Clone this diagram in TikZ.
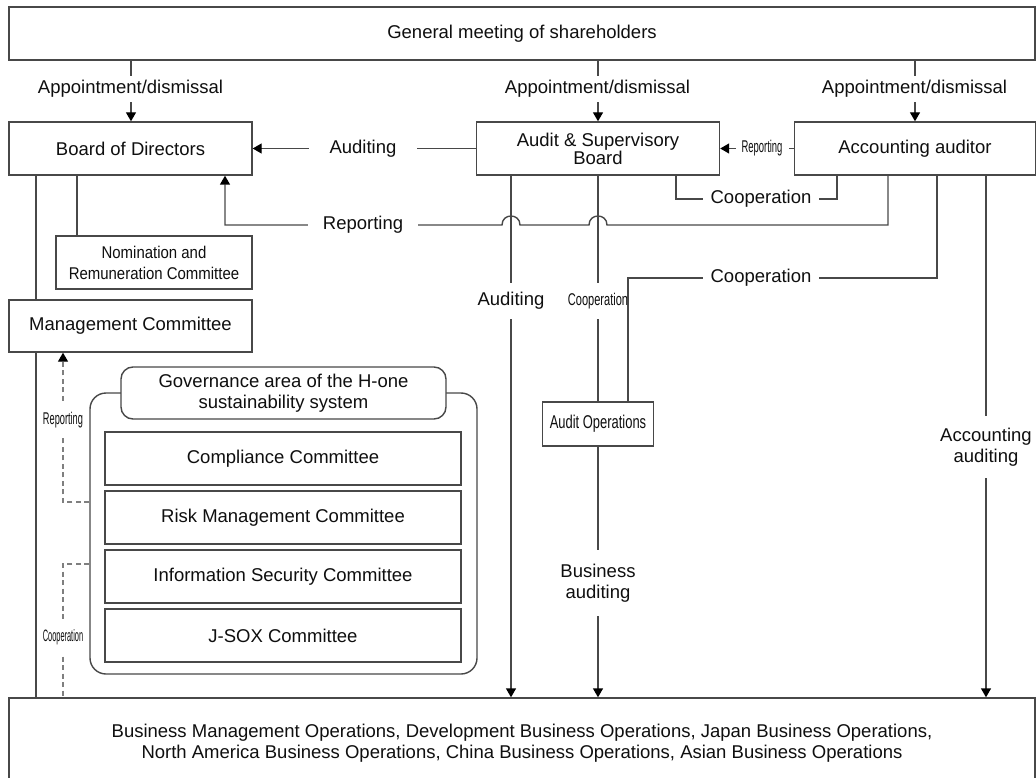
\documentclass[tikz,border=0pt]{standalone}
\usepackage{fontspec}
\setmainfont{Liberation Sans}
\usepackage{graphicx}
\usetikzlibrary{arrows.meta}
\definecolor{lc}{RGB}{72,72,72}
\definecolor{tc}{RGB}{15,15,15}
\newcommand{\nar}[2]{\scalebox{#1}[1]{#2}}
\begin{document}
\begin{tikzpicture}[x=1pt,y=-1pt,
  box/.style={draw=lc, line width=1.4pt, fill=white, inner sep=0pt, text=tc,
    font=\fontsize{18.5}{21}\selectfont, align=center},
  ln/.style={draw=lc, line width=1.4pt},
  tip/.style={-{Triangle[width=10pt,length=9pt,color=black]}},
  arr/.style={ln, tip},
  dsh/.style={draw=lc!70, line width=1.4pt, dash pattern=on 5pt off 3.5pt},
  lbl/.style={fill=white, inner sep=0pt, text=tc, font=\fontsize{18.5}{21}\selectfont, align=center},
  small/.style={fill=white, inner sep=0pt, text=tc, font=\fontsize{17}{19}\selectfont, align=center},
]
\useasboundingbox (0,0) rectangle (1036,778);
\clip (0,0) rectangle (1036,778);

% boxes
\node[box, minimum width=1026pt, minimum height=53pt] (gm) at (522,33.5) {General meeting of shareholders};
\node[box, minimum width=243pt, minimum height=53pt] (bod) at (130.5,148.5) {Board of Directors};
\node[box, minimum width=243pt, minimum height=53pt, font=\fontsize{18.5}{18}\selectfont] (asb) at (598,148.5) {Audit \& Supervisory\\Board};
\node[box, minimum width=241pt, minimum height=53pt] (aa) at (915,148.5) {Accounting auditor};
\node[box, minimum width=196pt, minimum height=53pt, font=\fontsize{17}{21}\selectfont] (nrc) at (154,262.5) {\nar{0.88}{Nomination and}\\\nar{0.88}{Remuneration Committee}};
\node[box, minimum width=243pt, minimum height=52pt] (mc) at (130.5,326) {Management Committee};
\node[box, minimum width=387pt, minimum height=281pt, rounded corners=16pt] (gov) at (283.5,533.5) {};
\node[box, minimum width=325pt, minimum height=52pt, rounded corners=12pt] (govt) at (283.5,393) {Governance area of the H-one\\sustainability system};
\node[box, minimum width=356pt, minimum height=53pt] (cc) at (283,458.5) {Compliance Committee};
\node[box, minimum width=356pt, minimum height=53pt] (rmc) at (283,517.5) {Risk Management Committee};
\node[box, minimum width=356pt, minimum height=53pt] (isc) at (283,576.5) {Information Security Committee};
\node[box, minimum width=356pt, minimum height=53pt] (jsox) at (283,635.5) {J-SOX Committee};
\node[box, minimum width=111pt, minimum height=44pt] (ao) at (598,424) {\nar{0.7}{Audit Operations}};
\node[box, minimum width=1026pt, minimum height=90pt] (bo) at (522,743) {Business Management Operations, Development Business Operations, Japan Business Operations,\\North America Business Operations, China Business Operations, Asian Business Operations};

% coordinates
\coordinate (c1) at (676,199);
\coordinate (c2) at (837,199);
\coordinate (r1) at (888,225);
\coordinate (r2) at (225,225);
\coordinate (xa) at (511,0);
\coordinate (c3) at (937,278);
\coordinate (c4) at (628,278);
\coordinate (xacc) at (986,0);
\coordinate (xl) at (36,0);
\coordinate (xn) at (77,0);
\coordinate (xb) at (131,0);
\coordinate (d1) at (63,502);
\coordinate (d2) at (63,564);

% appointment arrows
\draw[arr] (gm.south -| xb) -- (bod.north -| xb);
\draw[arr] (gm.south -| asb.north) -- (asb.north);
\draw[arr] (gm.south -| aa.north) -- (aa.north);
\node[lbl, inner ysep=4pt] (ap1) at (130.5,89) {Appointment/dismissal};
\node[lbl, inner ysep=4pt] (ap2) at (597.5,89) {Appointment/dismissal};
\node[lbl, inner ysep=4pt] (ap3) at (914.5,89) {Appointment/dismissal};

% auditing to board
\draw[arr] (asb.west) -- (bod.east);
\node[lbl, inner xsep=21pt, inner ysep=3pt] (laud) at (363,148.5) {Auditing};

% small reporting
\draw[arr] (aa.west) -- (asb.east);
\node[small, inner xsep=6pt, inner ysep=3pt] (lrep1) at (762,148.5) {\nar{0.556}{Reporting}};

% cooperation bracket
\draw[ln] (asb.south -| c1) -- (c1) -- (c2) -- (aa.south -| c2);
\node[lbl, inner xsep=8pt, inner ysep=3pt] (lcoop1) at (761,199) {Cooperation};

% long reporting with hops
\draw[arr] (aa.south -| r1) -- (r1) -- (607,225) .. controls (607,213) and (589,213) .. (589,225)
  -- (520,225) .. controls (520,213) and (502,213) .. (502,225) -- (r2) -- (bod.south -| r2);
\node[lbl, inner xsep=15pt, inner ysep=3pt] (lrep2) at (363,225) {Reporting};

% auditing vertical
\draw[arr] (asb.south -| xa) -- (bo.north -| xa);
\node[lbl, inner ysep=9pt, inner xsep=2pt] (laud2) at (511,301) {Auditing};

% cooperation vertical
\draw[ln] (asb.south) -- (ao.north);
\node[small, inner ysep=10pt, inner xsep=2pt] (lcoop2) at (598,301) {\nar{0.65}{Cooperation}};

% second cooperation
\draw[ln] (aa.south -| c3) -- (c3) -- (c4) -- (ao.north -| c4);
\node[lbl, inner xsep=8pt, inner ysep=3pt] (lcoop3) at (761,278) {Cooperation};

% accounting auditing
\draw[arr] (aa.south -| xacc) -- (bo.north -| xacc);
\node[lbl, inner ysep=12pt, inner xsep=2pt] (lacc) at (986,447) {Accounting\\auditing};

% business auditing
\draw[arr] (ao.south) -- (bo.north -| ao.south);
\node[lbl, inner ysep=14pt, inner xsep=2pt] (lbus) at (598,583) {Business\\auditing};

% board left lines
\draw[ln] (bod.south -| xl) -- (mc.north -| xl);
\draw[ln] (mc.south -| xl) -- (bo.north -| xl);
\draw[ln] (bod.south -| xn) -- (nrc.north -| xn);

% dashed reporting and cooperation
\draw[dsh, tip] (gov.west |- d1) -- (d1) -- (mc.south -| d1);
\node[small, inner ysep=10pt, inner xsep=1pt] (lrep3) at (63,420) {\nar{0.543}{Reporting}};
\draw[dsh] (gov.west |- d2) -- (d2) -- (bo.north -| d2);
\node[small, inner ysep=10pt, inner xsep=1pt, font=\fontsize{16.5}{18}\selectfont] (lcoop4) at (63,637) {\nar{0.45}{Cooperation}};
\end{tikzpicture}
\end{document}
